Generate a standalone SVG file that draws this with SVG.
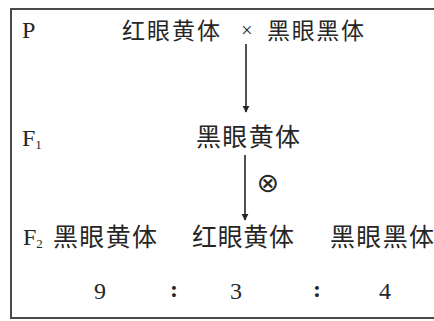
<svg xmlns="http://www.w3.org/2000/svg" width="434" height="321" viewBox="0 0 434 321">
<defs>
<style>
.cjk{font-family:"Noto Sans CJK SC","Noto Sans CJK JP",sans-serif;fill:#262626;}
.ser{font-family:"Liberation Serif","DejaVu Serif",serif;fill:#262626;}
.ln{stroke:#262626;stroke-width:1.6;fill:none;}
</style>
<marker id="ah" viewBox="0 0 10 10" refX="9" refY="5" markerWidth="7" markerHeight="8" markerUnits="userSpaceOnUse" orient="auto">
<path d="M0,0 L10,5 L0,10 z" fill="#262626"/>
</marker>
</defs>
<rect width="434" height="321" fill="#ffffff"/>
<rect id="frame" x="11" y="9" width="440" height="309" fill="none" stroke="#4a4a4a" stroke-width="2"/>
<g id="row-P">
<text class="ser" x="22" y="38" font-size="24">P</text>
<text class="cjk" x="122" y="39" font-size="23" textLength="98">红眼黄体</text>
<text class="ser" x="247" y="37" font-size="20" text-anchor="middle">×</text>
<text class="cjk" x="267" y="39" font-size="23" textLength="97">黑眼黑体</text>
</g>
<g id="row-F1">
<text class="ser" x="22" y="146" font-size="24">F<tspan font-size="13" dy="3">1</tspan></text>
<text class="cjk" x="196" y="146" font-size="25" textLength="104">黑眼黄体</text>
</g>
<g id="selfing">
<text x="268" y="192" font-size="27" text-anchor="middle" style="font-family:'DejaVu Sans',sans-serif;fill:#262626">⊗</text>
</g>
<g id="row-F2">
<text class="ser" x="23" y="245" font-size="24">F<tspan font-size="13" dy="3">2</tspan></text>
<text class="cjk" x="53" y="246" font-size="25" textLength="104">黑眼黄体</text>
<text class="cjk" x="192" y="246" font-size="25" textLength="102">红眼黄体</text>
<text class="cjk" x="330" y="246" font-size="25" textLength="104">黑眼黑体</text>
</g>
<g id="ratio">
<text class="ser" x="100" y="299" font-size="24" text-anchor="middle">9</text>
<text class="ser" x="174" y="297" font-size="24" font-weight="bold" text-anchor="middle">:</text>
<text class="ser" x="236" y="299" font-size="24" text-anchor="middle">3</text>
<text class="ser" x="317" y="297" font-size="24" font-weight="bold" text-anchor="middle">:</text>
<text class="ser" x="385" y="299" font-size="24" text-anchor="middle">4</text>
</g>
<g id="connectors">
<line class="ln" x1="246" y1="44" x2="246" y2="112" marker-end="url(#ah)"/>
<line class="ln" x1="245" y1="155" x2="245" y2="220" marker-end="url(#ah)"/>
</g>
</svg>
